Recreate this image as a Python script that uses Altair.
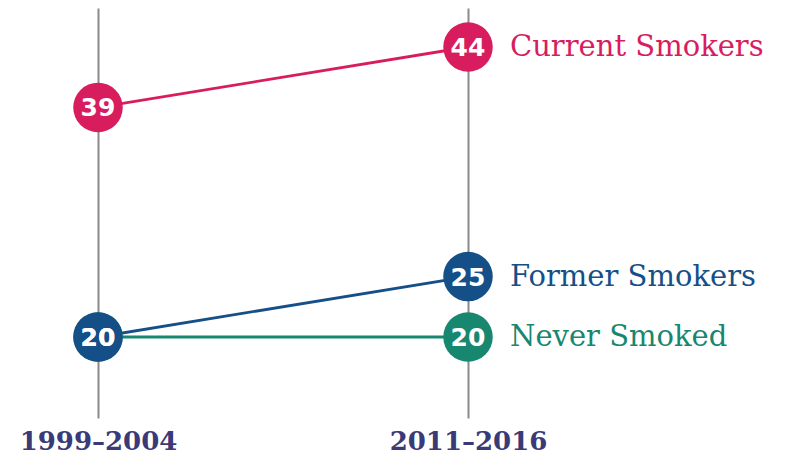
import altair as alt
import pandas as pd

periods = ["1999–2004", "2011–2016"]
groups = ["Never Smoked", "Former Smokers", "Current Smokers"]
start_values = [20, 20, 39]
end_values = [20, 25, 44]
point_colors = ["#17876f", "#154f88", "#d81d5f"]
label_colors = ["#2f8a6e", "#2d5b90", "#c73a6c"]

rows = []
for i, g in enumerate(groups):
    rows.append({"period": periods[0], "group": g, "value": start_values[i], "order": i})
    rows.append({"period": periods[1], "group": g, "value": end_values[i], "order": i})
df = pd.DataFrame(rows)

x = alt.X("period:N", scale=alt.Scale(domain=periods, range=[90, 460], padding=0),
          axis=alt.Axis(orient="bottom", title=None, grid=True, gridColor="#8a8a8a",
                        gridWidth=2, domain=False, ticks=False, labelAngle=0,
                        labelFont="DejaVu Serif", labelFontSize=26, labelFontWeight="bold",
                        labelColor="#3a3a78", labelPadding=10))
y = alt.Y("value:Q", scale=alt.Scale(domain=[13.2966, 47.2276], zero=False, nice=False),
          axis=None)
color = alt.Color("group:N", scale=alt.Scale(domain=groups, range=point_colors), legend=None)

base = alt.Chart(df)

lines = base.mark_line(strokeWidth=2.8).encode(x=x, y=y, color=color, detail="group:N")
points = base.mark_circle(size=2450, opacity=1).encode(x=x, y=y, color=color, order="order:Q")
nums = base.mark_text(color="white", font="DejaVu Sans", fontWeight="bold", fontSize=25,
                      baseline="middle", align="center", dy=1).encode(
    x=x, y=y, text="value:Q", order="order:Q")
labels = base.transform_filter(alt.datum.period == periods[1]).mark_text(
    align="left", baseline="middle", dx=42, font="DejaVu Serif", fontSize=29).encode(
    x=x, y=y, text="group:N",
    color=alt.Color("group:N", scale=alt.Scale(domain=groups, range=label_colors), legend=None))

chart = alt.layer(lines, points, nums, labels).properties(
    width=765, height=410, padding=0
).configure_view(stroke=None)

chart.save("out.html", embed_options={"renderer": "svg", "actions": False})
